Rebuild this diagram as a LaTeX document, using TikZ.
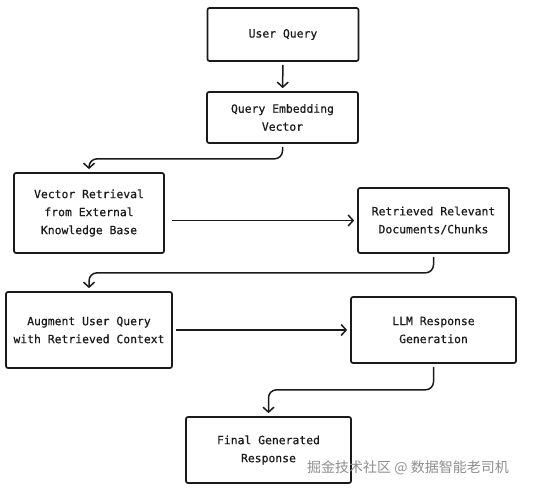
\documentclass[tikz,border=0pt]{standalone}
\usepackage{fontspec}
\setmonofont[FakeBold=0.6]{DejaVu Sans Mono}
\newfontfamily\cjk{Noto Sans CJK SC}
\usetikzlibrary{positioning, arrows.meta}

\definecolor{inkblack}{HTML}{1A1A1A}
\definecolor{markgray}{HTML}{8E8E8E}

\begin{document}
\begin{tikzpicture}[x=1pt, y=-1pt,
        stepbox/.style={draw=inkblack, line width=1.7pt, rounded corners=2pt, align=center,
            font=\ttfamily\fontsize{11.4}{18}\selectfont, text=inkblack, inner sep=0pt},
        flow/.style={draw=inkblack, line width=1.5pt, rounded corners=8pt,
            -{Straight Barb[length=5pt, width=11pt]}, shorten <=3pt, shorten >=3pt}]
    \useasboundingbox (0,0) rectangle (539,492);
    % steps
    \node[stepbox, minimum width=151pt, minimum height=53pt] (query) at (283,34.5) {User Query};
    \node[stepbox, minimum width=151pt, minimum height=51pt] (embed) at (282.5,117.5) {Query Embedding\\Vector};
    \node[stepbox, minimum width=150pt, minimum height=80pt] (retrieve) at (89,213) {Vector Retrieval\\from External\\Knowledge Base};
    \node[stepbox, minimum width=151pt, minimum height=65pt] (docs) at (433.5,220.5) {Retrieved Relevant\\Documents/Chunks};
    \node[stepbox, minimum width=166pt, minimum height=76pt] (augment) at (89,330) {Augment User Query\\with Retrieved Context};
    \node[stepbox, minimum width=165pt, minimum height=66pt] (llm) at (433.5,330) {LLM Response\\Generation};
    \node[stepbox, minimum width=165pt, minimum height=66pt] (final) at (268.5,450) {Final Generated\\Response};
    % connectors
    \draw[flow] (query) -- (embed);
    \draw[flow] (embed.south) -- ++(0,15) -| (retrieve.north);
    \draw[flow, shorten <=7pt] (retrieve.east |- docs.west) -- (docs.west);
    \draw[flow] (docs.south) -- ++(0,19) -| (augment.north);
    \draw[flow] (augment) -- (llm);
    \draw[flow] (llm.south) -- ++(0,26) -| (final.north);
    % watermark
    \node[font=\cjk\fontsize{14}{16}\selectfont, text=markgray, inner sep=0pt] (mark) at (408,468) {掘金技术社区 @ 数据智能老司机};
\end{tikzpicture}
\end{document}
